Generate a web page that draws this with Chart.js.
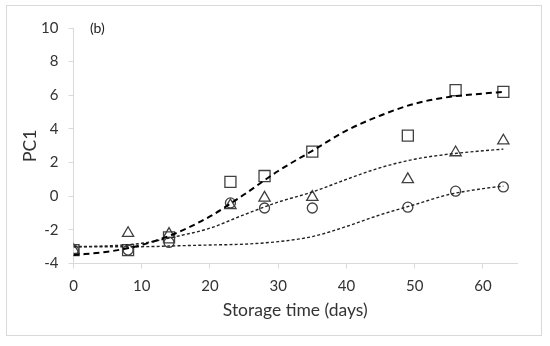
<!DOCTYPE html>
<html>
<head>
<meta charset="utf-8">
<script src="https://cdn.jsdelivr.net/npm/chart.js@4"></script>
<style>
  body { margin: 0; background: #fff; }
  #frame { position: absolute; left: 6px; top: 5px; width: 536px; height: 331px; border: 1px solid #d9d9d9; box-sizing: border-box; }
  #wrap { position: absolute; left: 0; top: 0; width: 550px; height: 346px; }
</style>
</head>
<body>
<div id="frame"></div>
<div id="wrap"><canvas id="chart" width="550" height="346"></canvas></div>
<script>
// measured points
const days = [0, 8, 14, 23, 28, 35, 49, 56, 63];
const squareVals = [-3.2, -3.2, -2.45, 0.85, 1.2, 2.65, 3.6, 6.3, 6.2];
const triangleVals = [-3.2, -2.2, -2.25, -0.55, -0.1, -0.05, 1.0, 2.6, 3.3];
const circleVals = [-3.2, -3.2, -2.75, -0.4, -0.7, -0.7, -0.65, 0.3, 0.55];

// fitted curves
const fitDays = [0, 5, 10, 15, 20, 25, 30, 35, 40, 45, 50, 55, 60, 63];
const squareFit = [-3.5, -3.3, -2.9, -2.2, -1.2, 0.1, 1.5, 2.7, 3.9, 4.8, 5.5, 5.9, 6.1, 6.2];
const triangleFit = [-3.0, -2.95, -2.8, -2.4, -1.9, -1.1, -0.35, 0.25, 1.0, 1.7, 2.2, 2.5, 2.7, 2.8];
const circleFit = [-3.0, -3.0, -3.0, -2.95, -2.9, -2.85, -2.7, -2.4, -1.8, -1.1, -0.5, 0.1, 0.45, 0.6];

const xTicks = [0, 10, 20, 30, 40, 50, 60];
const yTicks = [-4, -2, 0, 2, 4, 6, 8, 10];

const FONT = "Lato, 'Open Sans', sans-serif";
const INK = "#404040";

function pts(xs, ys) {
    return xs.map((x, i) => ({ x, y: ys[i] }));
}

function fitLine(data, bold) {
    return {
        type: "line",
        data: pts(fitDays, data),
        borderColor: bold ? "#000" : "#222",
        borderWidth: bold ? 2 : 1.4,
        borderDash: bold ? [6, 4] : [3, 2.2],
        pointRadius: 0,
        fill: false,
        cubicInterpolationMode: "monotone"
    };
}

function markers(data, style, r) {
    return {
        type: "scatter",
        data: pts(days, data),
        pointStyle: style,
        pointRadius: r,
        pointBorderColor: INK,
        pointBackgroundColor: "rgba(0,0,0,0)",
        pointBorderWidth: 1.3
    };
}

const panelLabel = {
    id: "panelLabel",
    afterDraw(chart) {
        const { ctx, scales } = chart;
        ctx.save();
        ctx.font = "14px " + FONT;
        ctx.fillStyle = "#222";
        ctx.textBaseline = "middle";
        ctx.fillText("(b)", scales.x.getPixelForValue(2.4), scales.y.getPixelForValue(10));
        ctx.restore();
    }
};

new Chart(document.getElementById("chart"), {
    data: {
        datasets: [
            fitLine(squareFit, true),
            fitLine(triangleFit, false),
            fitLine(circleFit, false),
            markers(squareVals, "rect", 7.8),
            markers(triangleVals, "triangle", 6.5),
            markers(circleVals, "circle", 5)
        ]
    },
    options: {
        responsive: false,
        animation: false,
        layout: { padding: { left: 0, right: 33, top: 28, bottom: 0 } },
        plugins: { legend: { display: false }, tooltip: { enabled: false } },
        scales: {
            x: {
                type: "linear",
                min: 0,
                max: 65,
                afterBuildTicks: s => { s.ticks = xTicks.map(v => ({ value: v })); },
                afterFit: s => { s.height = 82.5; },
                ticks: { font: { family: FONT, size: 15 }, color: "#333", padding: 9, includeBounds: false },
                grid: { display: true, drawOnChartArea: false, drawTicks: true, tickLength: 5, color: "#d9d9d9" },
                border: { display: true, color: "#d9d9d9" },
                title: { display: true, text: "Storage time (days)", font: { family: FONT, size: 17.5 }, color: "#333", padding: { top: 4, bottom: 25 } }
            },
            y: {
                type: "linear",
                min: -4,
                max: 10,
                afterBuildTicks: s => { s.ticks = yTicks.map(v => ({ value: v })); },
                afterFit: s => { s.width = 73.5; },
                ticks: { font: { family: FONT, size: 15 }, color: "#333", padding: 10 },
                grid: { display: true, drawOnChartArea: false, drawTicks: true, tickLength: 5, color: "#d9d9d9" },
                border: { display: true, color: "#d9d9d9" },
                title: { display: true, text: "PC1", font: { family: FONT, size: 17.5 }, color: "#333", padding: { top: 20, bottom: 0 } }
            }
        }
    },
    plugins: [panelLabel]
});
</script>
</body>
</html>
